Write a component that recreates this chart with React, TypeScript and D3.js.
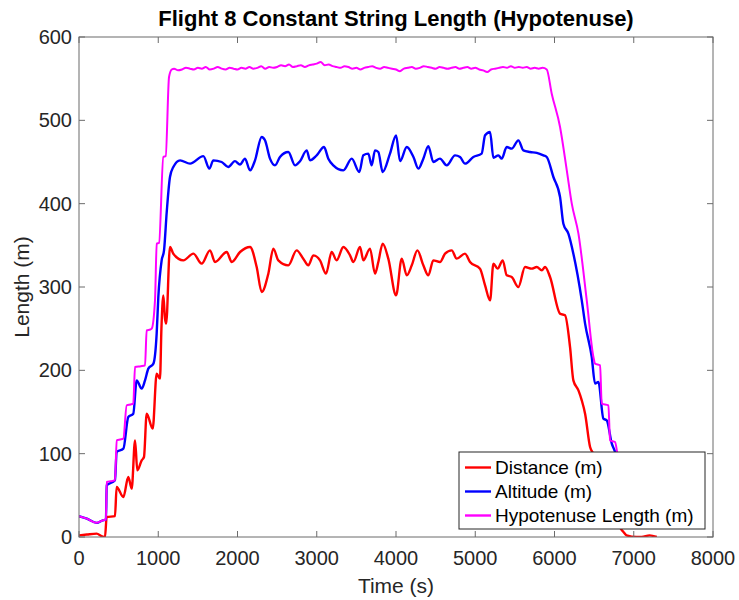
import React from "react";
import * as d3 from "d3";

const xTicks = [0, 1000, 2000, 3000, 4000, 5000, 6000, 7000, 8000];
const yTicks = [0, 100, 200, 300, 400, 500, 600];

const seriesNames = ["Distance (m)", "Altitude (m)", "Hypotenuse Length (m)"];
const seriesColors = ["#FF0000", "#0000FF", "#FF00FF"];

const distT = [0, 100, 223, 286, 328, 349, 454, 475, 560, 622, 665, 707, 736, 791, 820, 854, 930, 980, 1022, 1040, 1064, 1085, 1100, 1148, 1190, 1317, 1443, 1548, 1653, 1716, 1864, 1927, 2032, 2158, 2242, 2305, 2389, 2452, 2515, 2641, 2746, 2830, 2894, 2957, 3041, 3117, 3188, 3251, 3336, 3420, 3462, 3546, 3588, 3672, 3735, 3777, 3832, 3903, 4001, 4072, 4136, 4199, 4270, 4345, 4408, 4471, 4555, 4619, 4703, 4766, 4871, 4934, 5060, 5124, 5187, 5229, 5282, 5347, 5397, 5460, 5544, 5628, 5712, 5776, 5840, 5881, 5944, 6070, 6133, 6196, 6238, 6302, 6344, 6386, 6449, 6490, 6700, 6850, 6870, 6910, 7036, 7100, 7200, 7290];
const distV = [2, 3, 4, 1, 0, 24, 25, 60, 48, 72, 58, 116, 80, 92, 96, 148, 130, 196, 190, 250, 290, 262, 256, 348, 340, 332, 340, 328, 344, 330, 342, 330, 342, 348, 324, 294, 316, 346, 332, 326, 344, 334, 326, 338, 332, 316, 342, 332, 348, 338, 330, 348, 332, 346, 316, 330, 352, 334, 290, 334, 314, 326, 344, 326, 314, 332, 330, 340, 344, 334, 340, 330, 322, 302, 284, 328, 322, 332, 314, 312, 300, 324, 322, 324, 320, 324, 312, 268, 266, 228, 188, 176, 164, 148, 108, 100, 40, 8, 6, 2, 0, 0, 2, 0];

const altT = [0, 100, 223, 300, 340, 350, 454, 475, 560, 622, 685, 728, 791, 833, 875, 939, 980, 1001, 1043, 1073, 1107, 1148, 1190, 1275, 1401, 1569, 1645, 1695, 1800, 1884, 1968, 2031, 2095, 2158, 2221, 2305, 2347, 2410, 2473, 2536, 2641, 2726, 2789, 2873, 2915, 2999, 3092, 3146, 3209, 3336, 3441, 3537, 3588, 3651, 3693, 3735, 3777, 3832, 3924, 4001, 4051, 4136, 4220, 4282, 4345, 4408, 4471, 4555, 4640, 4745, 4808, 4871, 4976, 5081, 5124, 5187, 5229, 5292, 5334, 5397, 5460, 5544, 5607, 5691, 5776, 5860, 5902, 5986, 6070, 6112, 6175, 6238, 6344, 6386, 6470, 6512, 6554, 6617, 6659, 6723, 6764, 6850];
const altV = [25, 22, 17, 20, 21, 62, 68, 102, 106, 144, 148, 188, 178, 188, 202, 208, 244, 288, 332, 344, 390, 432, 444, 452, 448, 457, 442, 452, 450, 444, 451, 447, 454, 440, 452, 480, 476, 454, 446, 456, 462, 446, 451, 464, 452, 458, 468, 454, 446, 440, 454, 438, 458, 460, 446, 464, 462, 438, 460, 482, 451, 468, 456, 442, 454, 469, 450, 454, 446, 458, 456, 448, 456, 460, 482, 486, 455, 458, 454, 468, 466, 476, 464, 462, 461, 458, 456, 432, 408, 376, 364, 340, 284, 256, 216, 184, 186, 142, 140, 112, 102, 60];

const hypT = [0, 100, 223, 300, 340, 350, 400, 454, 476, 520, 559, 602, 650, 685, 707, 780, 833, 854, 900, 917, 959, 981, 1010, 1064, 1094, 1136, 1170, 1200, 1250, 1300, 1350, 1400, 1450, 1500, 1550, 1600, 1650, 1700, 1750, 1800, 1850, 1900, 1950, 2000, 2050, 2100, 2150, 2200, 2250, 2300, 2350, 2400, 2450, 2500, 2550, 2600, 2650, 2700, 2750, 2800, 2850, 2900, 2950, 3000, 3050, 3100, 3150, 3200, 3250, 3300, 3350, 3400, 3450, 3500, 3550, 3600, 3650, 3700, 3750, 3800, 3850, 3900, 3950, 4000, 4050, 4100, 4150, 4200, 4250, 4300, 4350, 4400, 4450, 4500, 4550, 4600, 4650, 4700, 4750, 4800, 4850, 4900, 4950, 5000, 5050, 5100, 5150, 5200, 5250, 5300, 5350, 5400, 5450, 5500, 5550, 5600, 5650, 5700, 5750, 5800, 5850, 5902, 5965, 6070, 6155, 6218, 6302, 6407, 6491, 6512, 6575, 6596, 6680, 6701, 6764, 6793, 6850];
const hypV = [25, 22, 17, 20, 21, 66, 67, 68, 116, 117, 118, 158, 159, 160, 204, 205, 206, 248, 249, 250, 284, 352, 353, 456, 457, 552, 561, 562, 560, 561, 563, 562, 561, 563, 562, 564, 561, 562, 564, 562, 561, 563, 562, 561, 563, 562, 564, 562, 563, 565, 562, 564, 563, 564, 566, 565, 567, 564, 565, 566, 564, 566, 567, 568, 570, 566, 567, 565, 564, 563, 565, 564, 562, 563, 561, 563, 564, 565, 563, 562, 564, 563, 562, 561, 559, 562, 563, 564, 562, 563, 565, 564, 563, 562, 564, 563, 562, 563, 564, 562, 563, 564, 562, 563, 561, 560, 558, 561, 562, 563, 564, 563, 565, 563, 564, 563, 564, 562, 563, 562, 563, 561, 532, 492, 440, 400, 364, 284, 216, 208, 206, 160, 158, 116, 114, 100, 60];

const W = 739;
const H = 600;
const left = 79;
const right = 713;
const top = 37;
const bottom = 537;
const FONT = "'Liberation Sans', Arial, Helvetica, sans-serif";
const TXT = "#262626";

export default function App() {
  const x = d3.scaleLinear().domain([0, 8000]).range([left, right]);
  const y = d3.scaleLinear().domain([0, 600]).range([bottom, top]);
  const line = d3
    .line<[number, number]>()
    .x((d) => x(d[0]))
    .y((d) => y(d[1]))
    .curve(d3.curveMonotoneX);
  const series = [
    distT.map((t, i) => [t, distV[i]] as [number, number]),
    altT.map((t, i) => [t, altV[i]] as [number, number]),
    hypT.map((t, i) => [t, hypV[i]] as [number, number]),
  ];
  const tl = 6;
  const lg = { x: 459, y: 452, w: 246, h: 77 };

  return (
    <svg
      width={W}
      height={H}
      style={{ position: "absolute", left: 0, top: 0, background: "#fff" }}
      fontFamily={FONT}
    >
      <rect x={0} y={0} width={W} height={H} fill="#fff" />
      <defs>
        <clipPath id="plotclip">
          <rect x={left} y={top} width={right - left} height={bottom - top} />
        </clipPath>
      </defs>
      <g clipPath="url(#plotclip)">
        {series.map((s, i) => (
          <path
            key={i}
            d={line(s) || ""}
            fill="none"
            stroke={seriesColors[i]}
            strokeWidth={i === 2 ? 2 : 2.4}
            strokeLinejoin="round"
          />
        ))}
      </g>
      <rect
        x={left}
        y={top}
        width={right - left}
        height={bottom - top}
        fill="none"
        stroke="#6b6b6b"
        strokeWidth={1}
      />
      {xTicks.map((t) => (
        <g key={"x" + t}>
          <line x1={x(t)} x2={x(t)} y1={bottom} y2={bottom - tl} stroke="#6b6b6b" />
          <line x1={x(t)} x2={x(t)} y1={top} y2={top + tl} stroke="#6b6b6b" />
          <text x={x(t)} y={bottom + 28} textAnchor="middle" fontSize={20} fill={TXT}>
            {t}
          </text>
        </g>
      ))}
      {yTicks.map((t) => (
        <g key={"y" + t}>
          <line x1={left} x2={left + tl} y1={y(t)} y2={y(t)} stroke="#6b6b6b" />
          <line x1={right} x2={right - tl} y1={y(t)} y2={y(t)} stroke="#6b6b6b" />
          <text x={left - 7} y={y(t) + 7} textAnchor="end" fontSize={20} fill={TXT}>
            {t}
          </text>
        </g>
      ))}
      <text
        x={(left + right) / 2}
        y={26}
        textAnchor="middle"
        fontSize={22}
        fontWeight="bold"
        fill="#000"
      >
        Flight 8 Constant String Length (Hypotenuse)
      </text>
      <text x={(left + right) / 2} y={593} textAnchor="middle" fontSize={21} fill={TXT}>
        Time (s)
      </text>
      <text
        transform={`translate(29, ${(top + bottom) / 2}) rotate(-90)`}
        textAnchor="middle"
        fontSize={21}
        fill={TXT}
      >
        Length (m)
      </text>
      <rect x={lg.x} y={lg.y} width={lg.w} height={lg.h} fill="#fff" stroke="#262626" strokeWidth={1} />
      {seriesNames.map((n, i) => (
        <g key={n}>
          <line
            x1={lg.x + 6}
            x2={lg.x + 32}
            y1={lg.y + 15.5 + i * 24}
            y2={lg.y + 15.5 + i * 24}
            stroke={seriesColors[i]}
            strokeWidth={2.4}
          />
          <text x={lg.x + 36} y={lg.y + 22 + i * 24} fontSize={19} fill="#000">
            {n}
          </text>
        </g>
      ))}
    </svg>
  );
}
